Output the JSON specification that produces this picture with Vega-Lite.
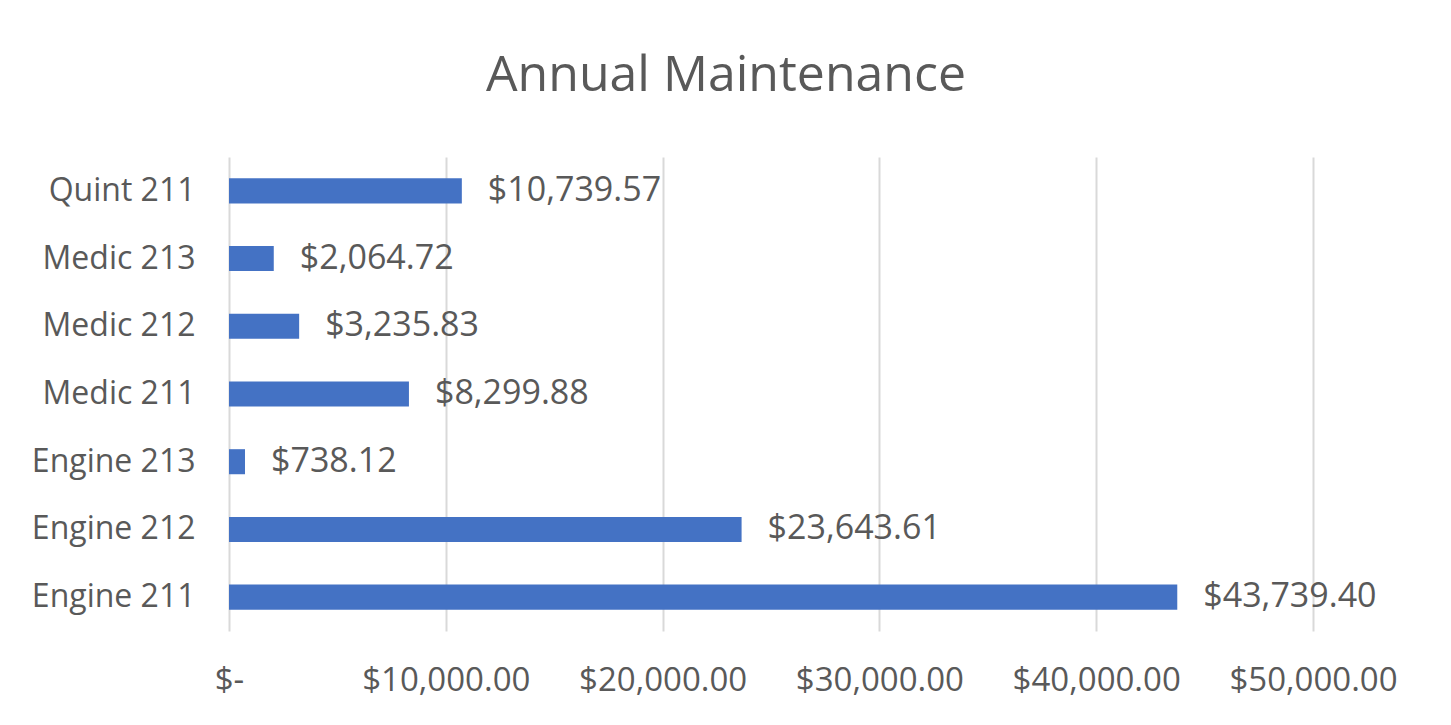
{
  "$schema": "https://vega.github.io/schema/vega-lite/v6.json",
  "width": 1084,
  "height": 474,
  "autosize": {"type": "none"},
  "padding": {"left": 229, "top": 157, "right": 138, "bottom": 94},
  "background": "white",
  "title": {
    "text": "Annual Maintenance",
    "font": "Open Sans",
    "fontSize": 50,
    "fontWeight": "normal",
    "color": "#595959",
    "anchor": "middle",
    "dx": -45,
    "offset": 56
  },
  "data": {
    "values": [
      {"unit": "Quint 211", "cost": 10739.57},
      {"unit": "Medic 213", "cost": 2064.72},
      {"unit": "Medic 212", "cost": 3235.83},
      {"unit": "Medic 211", "cost": 8299.88},
      {"unit": "Engine 213", "cost": 738.12},
      {"unit": "Engine 212", "cost": 23643.61},
      {"unit": "Engine 211", "cost": 43739.40}
    ]
  },
  "encoding": {
    "y": {
      "field": "unit",
      "type": "nominal",
      "sort": null,
      "scale": {"paddingInner": 0.63, "paddingOuter": 0.315},
      "axis": {
        "title": null,
        "domain": false,
        "ticks": false,
        "labelFont": "Open Sans",
        "labelFontSize": 32,
        "labelColor": "#595959",
        "labelPadding": 34
      }
    },
    "x": {
      "field": "cost",
      "type": "quantitative",
      "scale": {"domain": [0, 50000], "nice": false},
      "axis": {
        "title": null,
        "values": [0, 10000, 20000, 30000, 40000, 50000],
        "labelExpr": "datum.value == 0 ? '$-' : '$' + format(datum.value, ',.2f')",
        "domain": false,
        "ticks": false,
        "grid": true,
        "gridColor": "#d9d9d9",
        "gridWidth": 2,
        "labelFont": "Open Sans",
        "labelFontSize": 33,
        "labelColor": "#595959",
        "labelPadding": 33,
        "labelFlush": false,
        "labelBound": false,
        "labelOverlap": false,
        "labelAlign": "center"
      }
    }
  },
  "layer": [
    {"mark": {"type": "bar", "color": "#4472C4"}},
    {
      "mark": {
        "type": "text",
        "align": "left",
        "baseline": "middle",
        "dx": 26,
        "font": "Open Sans",
        "fontSize": 34,
        "color": "#595959"
      },
      "encoding": {"text": {"field": "cost", "type": "quantitative", "format": "$,.2f"}}
    }
  ],
  "config": {"view": {"stroke": null}}
}
